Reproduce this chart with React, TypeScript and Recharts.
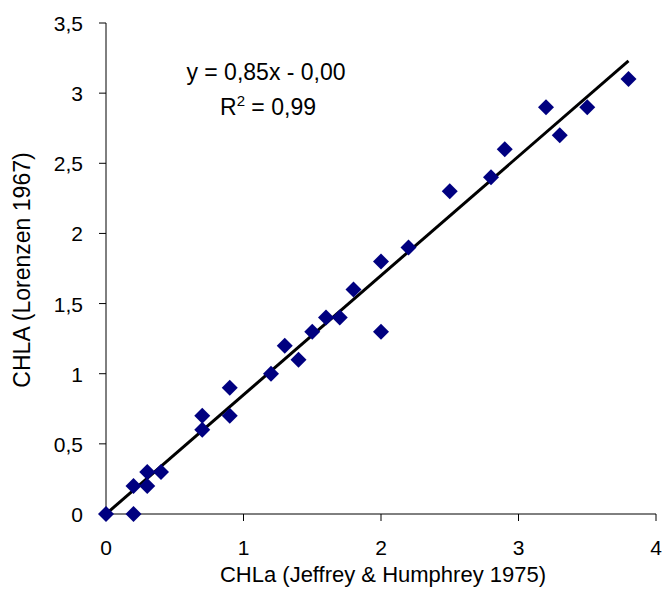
import { ComposedChart, Scatter, XAxis, YAxis, ReferenceLine } from "recharts";

const jeffreyX = [0, 0.2, 0.2, 0.3, 0.3, 0.4, 0.7, 0.7, 0.9, 0.9, 1.2, 1.3, 1.4, 1.5, 1.6, 1.7, 1.8, 2.0, 2.0, 2.2, 2.5, 2.8, 2.9, 3.2, 3.3, 3.5, 3.8];
const lorenzenY = [0, 0.2, 0, 0.3, 0.2, 0.3, 0.7, 0.6, 0.9, 0.7, 1.0, 1.2, 1.1, 1.3, 1.4, 1.4, 1.6, 1.8, 1.3, 1.9, 2.3, 2.4, 2.6, 2.9, 2.7, 2.9, 3.1];
const xTicks = [0, 1, 2, 3, 4];
const yTicks = [0, 0.5, 1, 1.5, 2, 2.5, 3, 3.5];
const slope = 0.85;
const intercept = 0;

const points = jeffreyX.map((x, i) => ({ x, y: lorenzenY[i] }));
const xMin = Math.min(...jeffreyX);
const xMax = Math.max(...jeffreyX);

const fmt = (v: number) => String(v).replace(".", ",");
const font = "'Liberation Sans', Arial, sans-serif";
const fs = 21;

const Diamond = (props: any) => {
  const { cx, cy } = props;
  const r = 8;
  return <polygon points={`${cx},${cy - r} ${cx + r},${cy} ${cx},${cy + r} ${cx - r},${cy}`} fill="#000080" />;
};

const XTick = (props: any) => {
  const { x, y, payload } = props;
  return (
    <text x={x} y={y} dy={32} textAnchor="middle" fill="#000" fontSize={fs} fontFamily={font}>
      {fmt(payload.value)}
    </text>
  );
};

const YTick = (props: any) => {
  const { x, y, payload } = props;
  return (
    <text x={x} y={y} dx={-14} dy={8} textAnchor="end" fill="#000" fontSize={fs} fontFamily={font}>
      {fmt(payload.value)}
    </text>
  );
};

export default function App() {
  return (
    <div style={{ position: "absolute", left: 0, top: 0, width: 664, height: 608, background: "#fff", fontFamily: font }}>
      <ComposedChart width={664} height={608} margin={{ top: 23, right: 8, bottom: 0, left: 0 }}>
        <XAxis
          type="number"
          dataKey="x"
          domain={[0, 4]}
          ticks={xTicks}
          height={94}
          stroke="#000"
          tickSize={7}
          tickMargin={2}
          tick={<XTick />}
        />
        <YAxis
          type="number"
          dataKey="y"
          domain={[0, 3.5]}
          ticks={yTicks}
          width={106}
          stroke="#000"
          tickSize={7}
          tickMargin={2}
          tick={<YTick />}
        />
        <Scatter data={points} shape={<Diamond />} isAnimationActive={false} />
        <ReferenceLine
          segment={[
            { x: xMin, y: slope * xMin + intercept },
            { x: xMax, y: slope * xMax + intercept },
          ]}
          stroke="#000"
          strokeWidth={3}
        />
      </ComposedChart>
      <svg width={664} height={608} style={{ position: "absolute", left: 0, top: 0, pointerEvents: "none" }}>
        <text x={383} y={582} textAnchor="middle" fill="#000" fontSize={22} fontFamily={font}>
          CHLa (Jeffrey &amp; Humphrey 1975)
        </text>
        <text transform="translate(30, 270) rotate(-90)" textAnchor="middle" fill="#000" fontSize={23} fontFamily={font}>
          CHLA (Lorenzen 1967)
        </text>
        <text x={266} y={80} textAnchor="middle" fill="#000" fontSize={23} fontFamily={font}>
          y = 0,85x - 0,00
        </text>
        <text x={268} y={115} textAnchor="middle" fill="#000" fontSize={23} fontFamily={font}>
          R<tspan fontSize={15} dy={-9}>2</tspan>
          <tspan dy={9}> = 0,99</tspan>
        </text>
      </svg>
    </div>
  );
}
